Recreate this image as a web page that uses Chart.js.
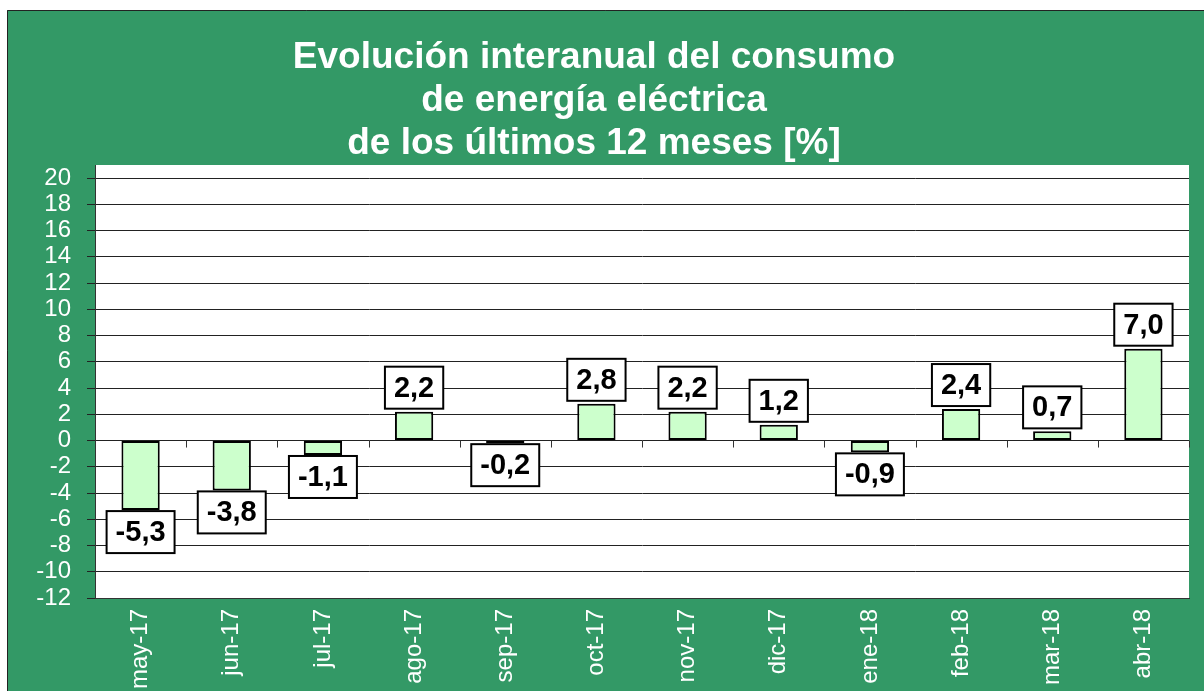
<!DOCTYPE html>
<html>
<head>
<meta charset="utf-8">
<script src="https://cdn.jsdelivr.net/npm/chart.js@4"></script>
<style>
  html, body { margin: 0; padding: 0; background: #fff; overflow: hidden; }
  #wrap { position: absolute; left: 0; top: 0; width: 1204px; height: 691px; }
</style>
</head>
<body>
<div id="wrap"><canvas id="consumoChart" width="1204" height="691"></canvas></div>
<script>
// datos del grafico
const meses = ['may-17', 'jun-17', 'jul-17', 'ago-17', 'sep-17', 'oct-17', 'nov-17', 'dic-17', 'ene-18', 'feb-18', 'mar-18', 'abr-18'];
const variacion = [-5.3, -3.8, -1.1, 2.2, -0.2, 2.8, 2.2, 1.2, -0.9, 2.4, 0.7, 7.0];
const tituloLineas = ['Evolución interanual del consumo', 'de energía eléctrica', 'de los últimos 12 meses [%]'];
const marcasY = [-12, -10, -8, -6, -4, -2, 0, 2, 4, 6, 8, 10, 12, 14, 16, 18, 20];
const ejeMin = -12;
const ejeMax = 21;

const VERDE = '#339966';
const FONT = 'Arial, "Liberation Sans", sans-serif';

// fondo verde, titulo y cuadro blanco del area de trazado
const fondoPlugin = {
  id: 'fondo',
  beforeDraw(chart) {
    const { ctx, chartArea } = chart;
    ctx.save();
    ctx.fillStyle = '#fff';
    ctx.fillRect(0, 0, chart.width, chart.height);
    ctx.fillStyle = VERDE;
    ctx.fillRect(7, 10, chart.width - 7, chart.height - 10);
    ctx.strokeStyle = '#222';
    ctx.lineWidth = 1;
    ctx.beginPath();
    ctx.moveTo(7.5, chart.height);
    ctx.lineTo(7.5, 10.5);
    ctx.lineTo(chart.width, 10.5);
    ctx.stroke();
    ctx.fillStyle = '#fff';
    ctx.fillRect(chartArea.left, chartArea.top, chartArea.right - chartArea.left, chartArea.bottom - chartArea.top);

    ctx.font = 'bold 37px ' + FONT;
    ctx.textAlign = 'center';
    ctx.textBaseline = 'alphabetic';
    tituloLineas.forEach((t, i) => {
      ctx.fillText(t, 594, 68 + i * 43);
    });
    ctx.restore();
  }
};

// marcas del eje de categorias sobre la linea del cero + etiquetas en recuadro
const etiquetasPlugin = {
  id: 'etiquetas',
  afterDatasetsDraw(chart) {
    const { ctx } = chart;
    const x = chart.scales.x;
    const y = chart.scales.y;
    const y0 = y.getPixelForValue(0);
    ctx.save();
    ctx.strokeStyle = '#333';
    ctx.lineWidth = 1;
    const n = meses.length;
    for (let i = 0; i <= n; i++) {
      const px = Math.round(x.left + i * (x.width / n)) + 0.5;
      ctx.beginPath();
      ctx.moveTo(px, y0);
      ctx.lineTo(px, y0 + 7);
      ctx.stroke();
    }

    const meta = chart.getDatasetMeta(0);
    ctx.font = 'bold 29px ' + FONT;
    ctx.textAlign = 'center';
    ctx.textBaseline = 'middle';
    meta.data.forEach((bar, i) => {
      const v = variacion[i];
      const txt = v.toFixed(1).replace('.', ',');
      const w = ctx.measureText(txt).width + 18;
      const h = 42;
      const cx = bar.x;
      let top;
      if (v >= 0) top = bar.y - 3 - h;
      else top = bar.y + 1;
      ctx.fillStyle = '#fff';
      ctx.fillRect(cx - w / 2, top, w, h);
      ctx.strokeStyle = '#000';
      ctx.lineWidth = 2;
      ctx.strokeRect(cx - w / 2, top, w, h);
      ctx.fillStyle = '#000';
      ctx.fillText(txt, cx, top + h / 2 + 1);
    });
    ctx.restore();
  }
};

const ctx = document.getElementById('consumoChart').getContext('2d');
new Chart(ctx, {
  type: 'bar',
  data: {
    labels: meses,
    datasets: [{
      data: variacion,
      backgroundColor: '#CCFFCC',
      borderColor: '#000',
      borderWidth: 2,
      borderSkipped: false,
      categoryPercentage: 1,
      barPercentage: 0.42,
    }],
  },
  options: {
    responsive: false,
    animation: false,
    devicePixelRatio: 1,
    layout: { padding: { left: 0, top: 165, right: 15, bottom: 0 } },
    plugins: {
      legend: { display: false },
      title: { display: false },
      tooltip: { enabled: false },
    },
    scales: {
      x: {
        offset: true,
        grid: { display: false, drawTicks: false },
        border: { display: true, color: '#333', width: 1 },
        ticks: {
          color: '#fff',
          font: { family: FONT, size: 24 },
          minRotation: 90,
          maxRotation: 90,
          autoSkip: false,
          padding: 11,
        },
        afterFit(scale) { scale.height = 93; },
      },
      y: {
        min: ejeMin,
        max: ejeMax,
        grid: { color: '#222', lineWidth: 1, tickLength: 8, tickColor: '#222' },
        border: { display: true, color: '#333', width: 1 },
        ticks: {
          autoSkip: false,
          color: '#fff',
          font: { family: FONT, size: 24 },
          padding: 16,
        },
        afterBuildTicks(axis) {
          axis.ticks = marcasY.map(v => ({ value: v }));
        },
        afterFit(scale) { scale.width = 95; },
      },
    },
  },
  plugins: [fondoPlugin, etiquetasPlugin],
});
</script>
</body>
</html>
